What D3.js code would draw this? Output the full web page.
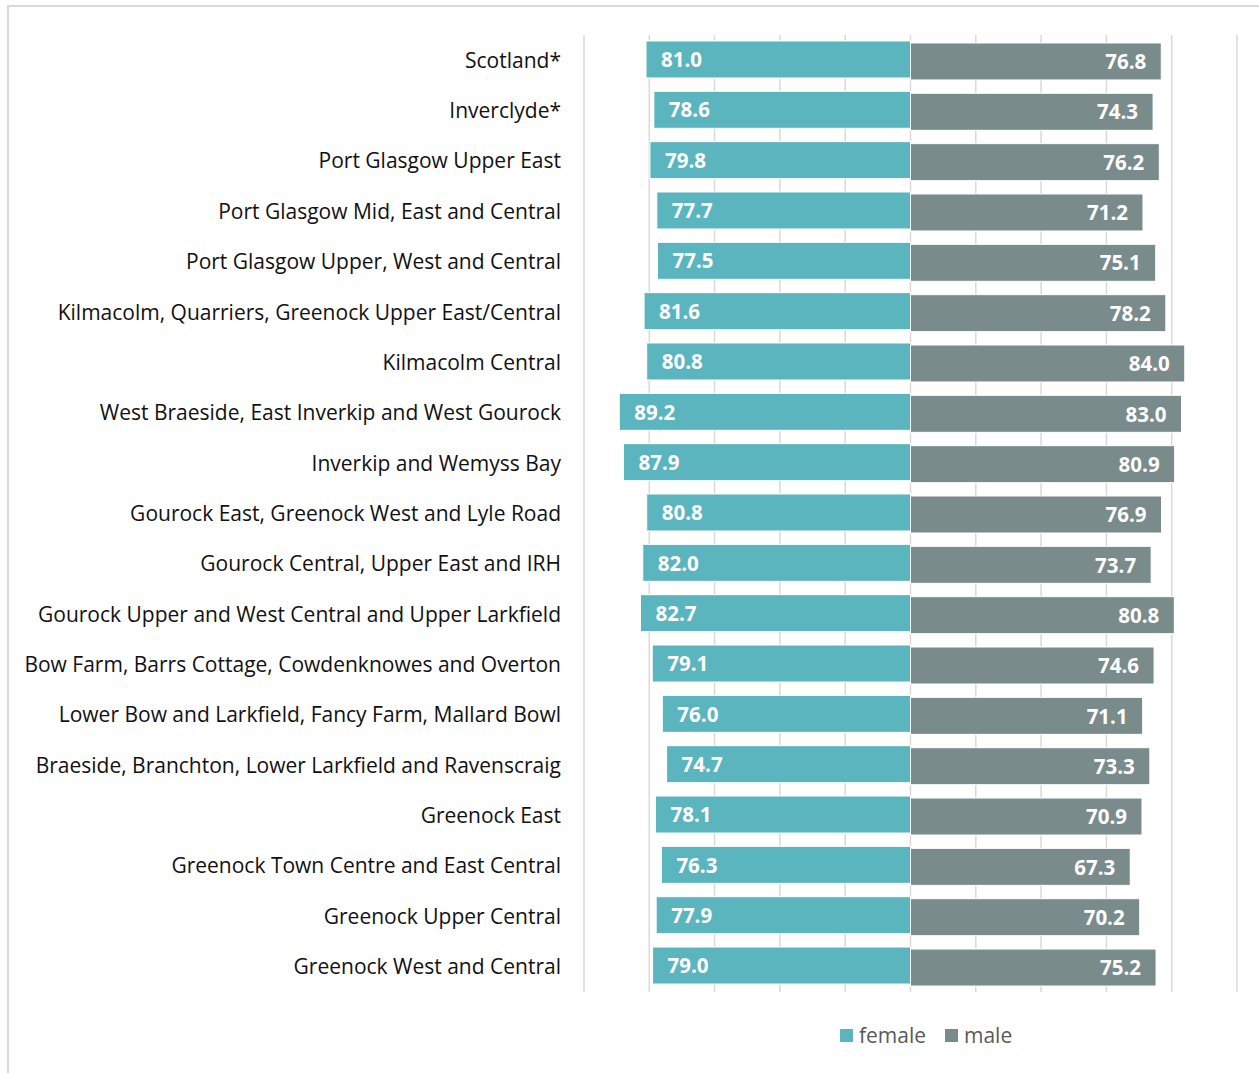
<!DOCTYPE html>
<html><head><meta charset="utf-8">
<script src="https://cdn.jsdelivr.net/npm/d3@7"></script>
<style>body{margin:0;background:#fff}svg{display:block}</style>
</head><body>
<script>
const categories = [
  "Scotland*",
  "Inverclyde*",
  "Port Glasgow Upper East",
  "Port Glasgow Mid, East and Central",
  "Port Glasgow Upper, West and Central",
  "Kilmacolm, Quarriers, Greenock Upper East/Central",
  "Kilmacolm Central",
  "West Braeside, East Inverkip and West Gourock",
  "Inverkip and Wemyss Bay",
  "Gourock East, Greenock West and Lyle Road",
  "Gourock Central, Upper East and IRH",
  "Gourock Upper and West Central and Upper Larkfield",
  "Bow Farm, Barrs Cottage, Cowdenknowes and Overton",
  "Lower Bow and Larkfield, Fancy Farm, Mallard Bowl",
  "Braeside, Branchton, Lower Larkfield and Ravenscraig",
  "Greenock East",
  "Greenock Town Centre and East Central",
  "Greenock Upper Central",
  "Greenock West and Central"
];
const female = [81.0,78.6,79.8,77.7,77.5,81.6,80.8,89.2,87.9,80.8,82.0,82.7,79.1,76.0,74.7,78.1,76.3,77.9,79.0];
const male   = [76.8,74.3,76.2,71.2,75.1,78.2,84.0,83.0,80.9,76.9,73.7,80.8,74.6,71.1,73.3,70.9,67.3,70.2,75.2];
const gridTicks = [-100,-80,-60,-40,-20,0,20,40,60,80,100];
const seriesNames = ["female","male"];
const colors = {female:"#5ab5bf", male:"#7a8b8c"};

const W = 1259, H = 1073;
const svg = d3.select("body").append("svg").attr("width",W).attr("height",H);

// outer frame (top and left edges visible)
svg.append("line").attr("x1",8).attr("x2",W).attr("y1",6).attr("y2",6).attr("stroke","#d9d9d9").attr("stroke-width",2);
svg.append("line").attr("x1",8).attr("x2",8).attr("y1",5).attr("y2",H).attr("stroke","#d9d9d9").attr("stroke-width",2);

const x = d3.scaleLinear().domain([-100,100]).range([584,1237]);
const y = d3.scaleBand().domain(categories).range([35.3,991.7]).paddingInner(0.265).paddingOuter(0.1325);

// gridlines
svg.append("g").selectAll("line").data(gridTicks).join("line")
  .attr("x1",d=>x(d)).attr("x2",d=>x(d)).attr("y1",35).attr("y2",992)
  .attr("stroke","#d9d9d9").attr("stroke-width",1.5);

const rows = categories.map((c,i)=>({c, f:female[i], m:male[i]}));
const bh = y.bandwidth();

// female bars
svg.append("g").selectAll("rect").data(rows).join("rect")
  .attr("x",d=>x(-d.f)).attr("width",d=>x(0)-x(-d.f))
  .attr("y",d=>y(d.c)-1).attr("height",bh)
  .attr("fill",colors.female).attr("stroke","#ffffff").attr("stroke-width",1);
// male bars
svg.append("g").selectAll("rect").data(rows).join("rect")
  .attr("x",x(0)).attr("width",d=>x(d.m)-x(0))
  .attr("y",d=>y(d.c)+1).attr("height",bh)
  .attr("fill",colors.male).attr("stroke","#ffffff").attr("stroke-width",1);

const font = "'Open Sans', 'Noto Sans', sans-serif";
// value labels
svg.append("g").selectAll("text").data(rows).join("text")
  .attr("x",d=>x(-d.f)+15).attr("y",d=>y(d.c)-1+bh/2+0.5).attr("dy","0.35em")
  .attr("fill","#fff").attr("font-family",font).attr("font-weight","bold").attr("font-size",20.5)
  .text(d=>d.f.toFixed(1));
svg.append("g").selectAll("text").data(rows).join("text")
  .attr("x",d=>x(d.m)-15).attr("y",d=>y(d.c)+1+bh/2+0.5).attr("dy","0.35em").attr("text-anchor","end")
  .attr("fill","#fff").attr("font-family",font).attr("font-weight","bold").attr("font-size",20.5)
  .text(d=>d.m.toFixed(1));

// category labels
svg.append("g").selectAll("text").data(categories).join("text")
  .attr("x",561).attr("y",d=>y(d)+bh/2).attr("dy","0.35em").attr("text-anchor","end")
  .attr("fill","#111").attr("font-family",font).attr("font-size",21)
  .text(d=>d);

// legend
const lg = svg.append("g");
const legendX = [840, 945];
seriesNames.forEach((s,i)=>{
  lg.append("rect").attr("x",legendX[i]).attr("y",1029).attr("width",13).attr("height",13).attr("fill",colors[s]);
  lg.append("text").attr("x",legendX[i]+19).attr("y",1036).attr("dy","0.35em")
    .attr("fill","#595959").attr("font-family",font).attr("font-size",21).text(s);
});
</script>
</body></html>
